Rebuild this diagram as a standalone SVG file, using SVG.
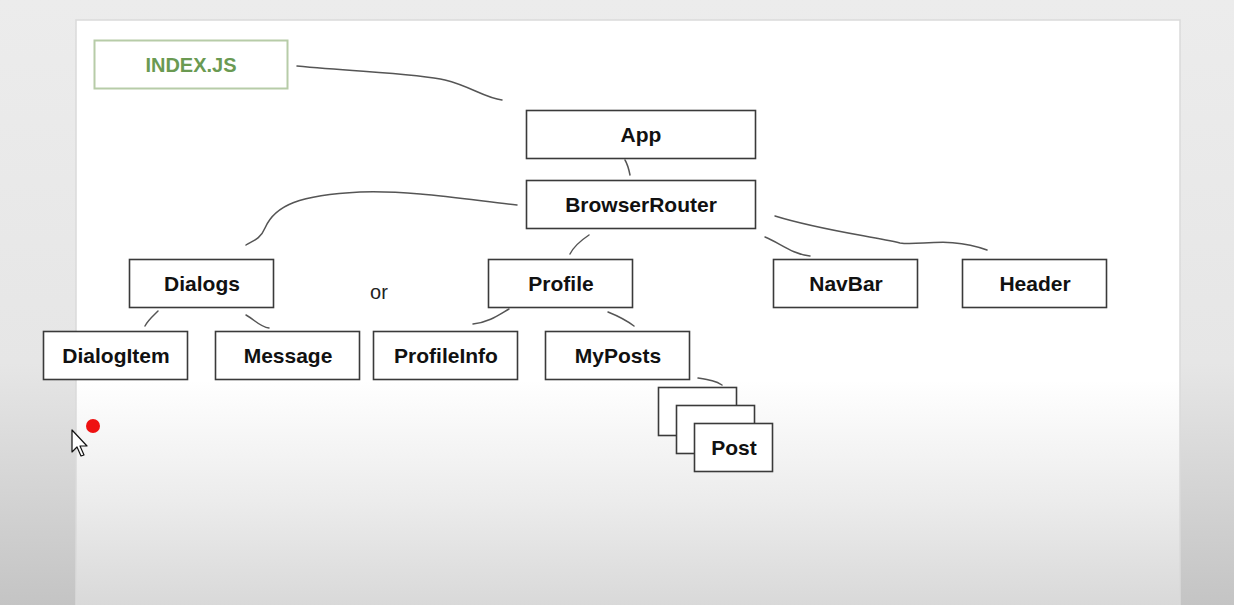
<svg xmlns="http://www.w3.org/2000/svg" width="1234" height="605" viewBox="0 0 1234 605">
<defs>
<linearGradient id="bg" x1="0" y1="0" x2="0" y2="1">
<stop offset="0" stop-color="#ececec"/>
<stop offset="0.6" stop-color="#e6e6e6"/>
<stop offset="1" stop-color="#c4c4c4"/>
</linearGradient>
<linearGradient id="page" x1="0" y1="0" x2="0" y2="1">
<stop offset="0" stop-color="#ffffff"/>
<stop offset="0.6" stop-color="#ffffff"/>
<stop offset="0.8" stop-color="#ececec"/>
<stop offset="1" stop-color="#d6d6d6"/>
</linearGradient>
<style>
.box{fill:#fff;stroke:#3a3a3a;stroke-width:1.6}
.lbl{font-family:"Liberation Sans",Arial,sans-serif;font-weight:bold;font-size:21px;fill:#111;text-anchor:middle}
.con path{fill:none;stroke:#555;stroke-width:1.5;stroke-linecap:round}
</style>
</defs>
<rect x="0" y="0" width="1234" height="605" fill="url(#bg)"/>
<rect x="76" y="20" width="1104" height="600" fill="url(#page)" stroke="#dadada" stroke-width="1.5"/>

<g id="index">
<rect x="94.5" y="40.5" width="193" height="48" fill="#fff" stroke="#b7cca8" stroke-width="2"/>
<text x="191" y="71.5" class="lbl" style="fill:#6a9a52;font-size:20px">INDEX.JS</text>
</g>

<g class="con" id="connectors">
<path d="M297,66 C360,72 420,74 445,80 C470,86 485,98 502,100"/>
<path d="M625,160 C628,165 629,170 630,175"/>
<path d="M517,205 C470,200 410,190 360,192 C300,195 275,205 265,228 C260,240 252,241 246,245"/>
<path d="M589,235 C580,241 573,248 570,254"/>
<path d="M765,237 C780,243 792,254 810,256"/>
<path d="M775,216 C820,230 870,236 900,243 C920,246 950,236 987,250"/>
<path d="M158,311 C153,316 148,320 145,326"/>
<path d="M246,315 C255,320 260,327 269,328"/>
<path d="M509,309 C500,314 490,322 473,324"/>
<path d="M608,312 C618,316 626,320 634,326"/>
<path d="M698,378 C710,380 716,381 722,385"/>
</g>

<g id="app"><rect class="box" x="526.5" y="110.5" width="229" height="48"/><text class="lbl" x="641" y="142">App</text></g>
<g id="browserrouter"><rect class="box" x="526.5" y="180.5" width="229" height="48"/><text class="lbl" x="641" y="212">BrowserRouter</text></g>
<g id="dialogs"><rect class="box" x="129.5" y="259.5" width="144" height="48"/><text class="lbl" x="202" y="291">Dialogs</text></g>
<g id="profile"><rect class="box" x="488.5" y="259.5" width="144" height="48"/><text class="lbl" x="561" y="291">Profile</text></g>
<g id="navbar"><rect class="box" x="773.5" y="259.5" width="144" height="48"/><text class="lbl" x="846" y="291">NavBar</text></g>
<g id="header"><rect class="box" x="962.5" y="259.5" width="144" height="48"/><text class="lbl" x="1035" y="291">Header</text></g>
<g id="or"><text x="379" y="299" style="font-family:'Liberation Sans',Arial,sans-serif;font-size:20px;fill:#222;text-anchor:middle">or</text></g>
<g id="dialogitem"><rect class="box" x="43.5" y="331.5" width="144" height="48"/><text class="lbl" x="116" y="363">DialogItem</text></g>
<g id="message"><rect class="box" x="215.5" y="331.5" width="144" height="48"/><text class="lbl" x="288" y="363">Message</text></g>
<g id="profileinfo"><rect class="box" x="373.5" y="331.5" width="144" height="48"/><text class="lbl" x="446" y="363">ProfileInfo</text></g>
<g id="myposts"><rect class="box" x="545.5" y="331.5" width="144" height="48"/><text class="lbl" x="618" y="363">MyPosts</text></g>
<g id="post">
<rect class="box" x="658.5" y="387.5" width="78" height="48"/>
<rect class="box" x="676.5" y="405.5" width="78" height="48"/>
<rect class="box" x="694.5" y="423.5" width="78" height="48"/>
<text class="lbl" x="734" y="455">Post</text>
</g>

<circle cx="93" cy="426" r="7" fill="#ee1111"/>
<path d="M72,430 L72,452 L77,447 L81,456 L84,455 L80,446 L87,446 Z" fill="#fff" stroke="#111" stroke-width="1.2" stroke-linejoin="round"/>
</svg>
